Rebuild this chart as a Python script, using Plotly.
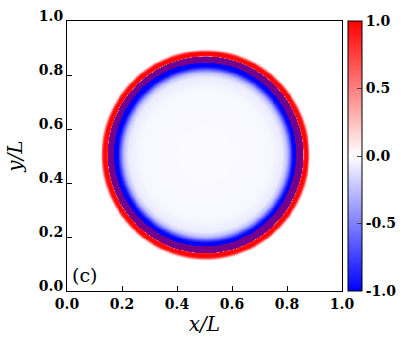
import numpy as np
import plotly.graph_objects as go

# Radial profile of the field (normalised distance from centre, value)
radius_samples = [0.00, 0.24, 0.28, 0.296, 0.306, 0.314, 0.320, 0.350, 0.355, 0.3565, 0.362, 0.370, 0.375, 0.379, 0.384, 0.75]
field_values   = [-0.015, -0.03, -0.08, -0.25, -0.55, -0.85, -1.00, -1.00, -0.95, 0.80, 1.00, 0.95, 0.60, 0.15, 0.00, 0.00]
# Mixed (red over blue) band, seen as purple in the picture
mixed_band = [0.332, 0.362]
mixed_value = 1.0
centre = [0.503, 0.505]
axis_scale = [1.0, 1.025]

cbar_ticks = [-1.0, -0.5, 0.0, 0.5, 1.0]
axis_ticks = [0.0, 0.2, 0.4, 0.6, 0.8, 1.0]

n = 567
xs = np.linspace(0, 1, n)
ys = np.linspace(0, 1, n)
X, Y = np.meshgrid(xs, ys)
R = np.sqrt(((X - centre[0]) / axis_scale[0]) ** 2 + ((Y - centre[1]) / axis_scale[1]) ** 2)
Z = np.interp(R, radius_samples, field_values)
Z_mix = np.where((R >= mixed_band[0]) & (R <= mixed_band[1]), mixed_value, np.nan)

serif = "DejaVu Serif"
colorscale = [[0, "rgb(0,0,255)"], [0.5, "rgb(255,255,255)"], [1, "rgb(255,0,0)"]]

fig = go.Figure()
fig.add_trace(go.Heatmap(
    x=xs, y=ys, z=Z,
    zmin=-1, zmax=1,
    colorscale=colorscale,
    zsmooth="best",
    colorbar=dict(
        x=1.022, xanchor="left", xpad=0,
        y=0.5, yanchor="middle", len=1.0, lenmode="fraction", ypad=0,
        thickness=14,
        outlinewidth=1, outlinecolor="black",
        tickvals=cbar_ticks, ticktext=[f"<b>{v:.1f}</b>" for v in cbar_ticks],
        ticks="inside", ticklen=5, tickcolor="#444",
        tickfont=dict(family=serif, size=14, color="black"),
    ),
))
fig.add_trace(go.Heatmap(
    x=xs, y=ys, z=Z_mix,
    zmin=-1, zmax=1,
    colorscale=colorscale,
    zsmooth=False, showscale=False, opacity=0.45,
    hoverinfo="skip",
))

axis_common = dict(
    range=[0, 1], showgrid=False, zeroline=False,
    showline=True, mirror=True, linecolor="black", linewidth=1,
    ticks="inside", ticklen=5, tickcolor="black",
    tickvals=axis_ticks, ticktext=[f"<b>{v:.1f}</b>" for v in axis_ticks],
    tickfont=dict(family=serif, size=14, color="black"),
    ticklabeloverflow="allow",
)

fig.update_layout(
    width=410, height=351,
    margin=dict(l=67, r=59, t=8, b=60),
    paper_bgcolor="white", plot_bgcolor="white",
    font=dict(family=serif),
    xaxis=dict(**axis_common,
               title=dict(text="<i>x/L</i>", font=dict(family=serif, size=20, color="black"), standoff=6)),
    yaxis=dict(**axis_common, ticklabelshift=-5,
               title=dict(text="<i>y/L</i>", font=dict(family=serif, size=20, color="black"), standoff=10)),
    annotations=[dict(
        x=0.012, y=0.012, xref="x domain", yref="y domain",
        xanchor="left", yanchor="bottom", showarrow=False,
        text="(c)", font=dict(family=serif, size=19, color="black"),
    )],
)

fig.write_html("out.html")
